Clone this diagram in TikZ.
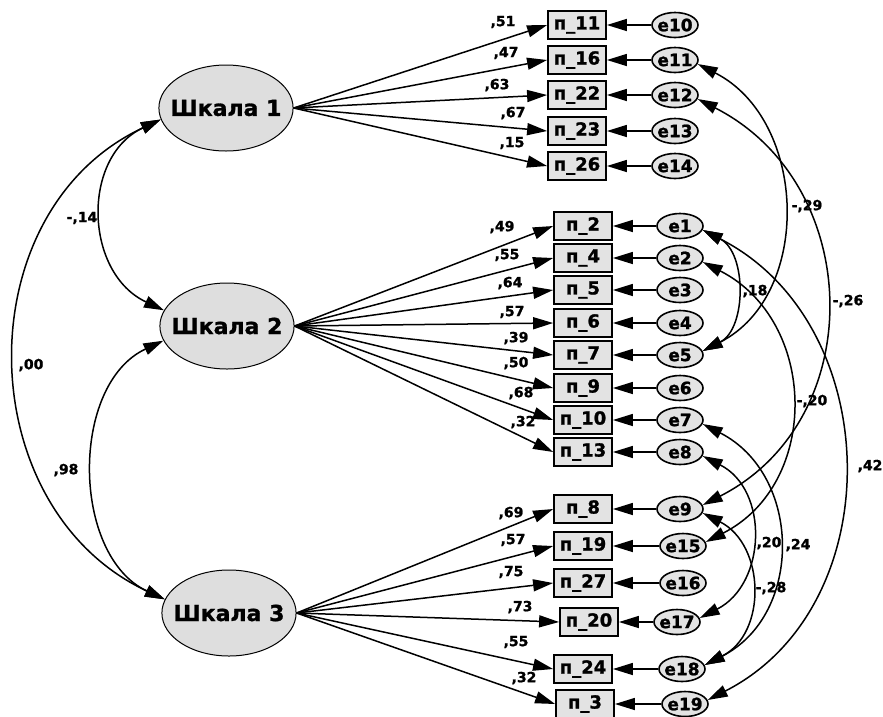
\documentclass[tikz,border=0pt]{standalone}
\usepackage{fontspec}
\setsansfont{DejaVu Sans}[BoldFont={DejaVu Sans Bold}, BoldFeatures={FakeBold=1.3}]
\usetikzlibrary{arrows.meta,shapes.geometric}

\begin{document}
\begin{tikzpicture}[x=1pt,y=1pt,
    latent/.style={ellipse, draw, line width=1pt, fill=black!13, minimum width=128pt, minimum height=86pt, inner xsep=-8pt, font=\sffamily\bfseries\fontsize{22}{24}\selectfont},
    obs/.style={rectangle, draw, line width=1.8pt, fill=black!11, minimum width=58pt, minimum height=28pt, inner sep=0pt, font=\sffamily\bfseries\fontsize{18}{20}\selectfont},
    err/.style={ellipse, draw, line width=1.6pt, fill=black!11, minimum width=46pt, minimum height=25pt, inner xsep=-2pt, inner ysep=0pt, font=\sffamily\bfseries\fontsize{17}{19}\selectfont},
    coef/.style={inner sep=0pt, font=\sffamily\bfseries\fontsize{14}{16}\selectfont},
    load/.style={line width=1.5pt, -{Triangle[length=20pt,width=12pt]}},
    cov/.style={line width=1.5pt, {Triangle[length=20pt,width=12pt]}-{Triangle[length=20pt,width=12pt]}, looseness=1.18},
    covr/.style={cov, out=-27, in=27},
    covl/.style={cov, out=-155, in=155}
  ]

    \useasboundingbox (0,0) rectangle (883,-716);

    \node[latent] (s1) at (226,-108) {Шкала 1};
    \node[latent] (s2) at (227,-326) {Шкала 2};
    \node[latent] (s3) at (229,-613) {Шкала 3};

    \node[obs] (p11) at (577,-25) {п\_11};
    \node[obs] (p16) at (577,-60) {п\_16};
    \node[obs] (p22) at (577,-95) {п\_22};
    \node[obs] (p23) at (577,-131) {п\_23};
    \node[obs] (p26) at (577,-166) {п\_26};

    \node[obs] (p2) at (583,-226) {п\_2};
    \node[obs] (p4) at (583,-258) {п\_4};
    \node[obs] (p5) at (583,-290) {п\_5};
    \node[obs] (p6) at (583,-323) {п\_6};
    \node[obs] (p7) at (583,-355) {п\_7};
    \node[obs] (p9) at (583,-388) {п\_9};
    \node[obs] (p10) at (583,-420) {п\_10};
    \node[obs] (p13) at (583,-452) {п\_13};

    \node[obs] (p8) at (583,-509) {п\_8};
    \node[obs] (p19) at (583,-546) {п\_19};
    \node[obs] (p27) at (583,-583) {п\_27};
    \node[obs] (p20) at (589,-622) {п\_20};
    \node[obs] (p24) at (583,-669) {п\_24};
    \node[obs] (p3) at (585,-704) {п\_3};

    \node[err] (e10) at (675,-25) {e10};
    \node[err] (e11) at (675,-60) {e11};
    \node[err] (e12) at (675,-95) {e12};
    \node[err] (e13) at (675,-131) {e13};
    \node[err] (e14) at (675,-166) {e14};

    \node[err] (e1) at (680,-226) {e1};
    \node[err] (e2) at (680,-258) {e2};
    \node[err] (e3) at (680,-290) {e3};
    \node[err] (e4) at (680,-323) {e4};
    \node[err] (e5) at (680,-355) {e5};
    \node[err] (e6) at (680,-388) {e6};
    \node[err] (e7) at (680,-420) {e7};
    \node[err] (e8) at (680,-452) {e8};

    \node[err] (e9) at (680,-509) {e9};
    \node[err] (e15) at (683,-546) {e15};
    \node[err] (e16) at (683,-583) {e16};
    \node[err] (e17) at (677,-622) {e17};
    \node[err] (e18) at (682,-669) {e18};
    \node[err] (e19) at (685,-704) {e19};

    % loadings
    \draw[load] (s1.east) -- (p11.west);
    \draw[load] (s1.east) -- (p16.west);
    \draw[load] (s1.east) -- (p22.west);
    \draw[load] (s1.east) -- (p23.west);
    \draw[load] (s1.east) -- (p26.west);

    \draw[load] (s2.east) -- (p2.west);
    \draw[load] (s2.east) -- (p4.west);
    \draw[load] (s2.east) -- (p5.west);
    \draw[load] (s2.east) -- (p6.west);
    \draw[load] (s2.east) -- (p7.west);
    \draw[load] (s2.east) -- (p9.west);
    \draw[load] (s2.east) -- (p10.west);
    \draw[load] (s2.east) -- (p13.west);

    \draw[load] (s3.east) -- (p8.west);
    \draw[load] (s3.east) -- (p19.west);
    \draw[load] (s3.east) -- (p27.west);
    \draw[load] (s3.east) -- (p20.west);
    \draw[load] (s3.east) -- (p24.west);
    \draw[load] (s3.east) -- (p3.west);

    \node[coef] (l11) at (503,-22) {,51};
    \node[coef] (l16) at (506,-53) {,47};
    \node[coef] (l22) at (497,-85) {,63};
    \node[coef] (l23) at (513,-113) {,67};
    \node[coef] (l26) at (512,-143) {,15};

    \node[coef] (l2) at (502,-227) {,49};
    \node[coef] (l4) at (507,-255) {,55};
    \node[coef] (l5) at (510,-283) {,64};
    \node[coef] (l6) at (512,-312) {,57};
    \node[coef] (l7) at (516,-338) {,39};
    \node[coef] (l9) at (516,-363) {,50};
    \node[coef] (l10) at (521,-393) {,68};
    \node[coef] (l13) at (523,-422) {,32};

    \node[coef] (l8) at (511,-513) {,69};
    \node[coef] (l19) at (513,-540) {,57};
    \node[coef] (l27) at (511,-572) {,75};
    \node[coef] (l20) at (520,-607) {,73};
    \node[coef] (l24) at (516,-642) {,55};
    \node[coef] (l3) at (524,-678) {,32};

    % errors
    \draw[load] (e10) -- (p11);
    \draw[load] (e11) -- (p16);
    \draw[load] (e12) -- (p22);
    \draw[load] (e13) -- (p23);
    \draw[load] (e14) -- (p26);
    \draw[load] (e1) -- (p2);
    \draw[load] (e2) -- (p4);
    \draw[load] (e3) -- (p5);
    \draw[load] (e4) -- (p6);
    \draw[load] (e5) -- (p7);
    \draw[load] (e6) -- (p9);
    \draw[load] (e7) -- (p10);
    \draw[load] (e8) -- (p13);
    \draw[load] (e9) -- (p8);
    \draw[load] (e15) -- (p19);
    \draw[load] (e16) -- (p27);
    \draw[load] (e17) -- (p20);
    \draw[load] (e18) -- (p24);
    \draw[load] (e19) -- (p3);

    % covariances
    \draw[covl] (s1.190) to (s2.166);
    \draw[covl, looseness=1.15] (s1.190) to (s3.168);
    \draw[covl, looseness=1.02] (s2.193) to (s3.168);

    \node[coef] (k12) at (82,-218) {-,14};
    \node[coef] (k13) at (31,-365) {,00};
    \node[coef] (k23) at (66,-470) {,98};

    \draw[covr, looseness=1.1] (e11.-10) to (e5.10);
    \draw[covr, looseness=1.05] (e1.-10) to (e5.10);
    \draw[covr] (e12.-10) to (e9.10);
    \draw[covr] (e2.-10) to (e15.10);
    \draw[covr, looseness=1.12] (e1.-10) to (e19.10);
    \draw[covr] (e8.-10) to (e17.10);
    \draw[covr] (e7.-10) to (e18.10);
    \draw[covr] (e9.-10) to (e18.10);

    \node[coef] (r115) at (807,-206) {-,29};
    \node[coef] (r15) at (755,-291) {,18};
    \node[coef] (r129) at (848,-301) {-,26};
    \node[coef] (r215) at (812,-401) {-,20};
    \node[coef] (r119) at (870,-466) {,42};
    \node[coef] (r817) at (769,-543) {,20};
    \node[coef] (r718) at (798,-545) {,24};
    \node[coef] (r918) at (771,-588) {-,28};

\end{tikzpicture}
\end{document}
